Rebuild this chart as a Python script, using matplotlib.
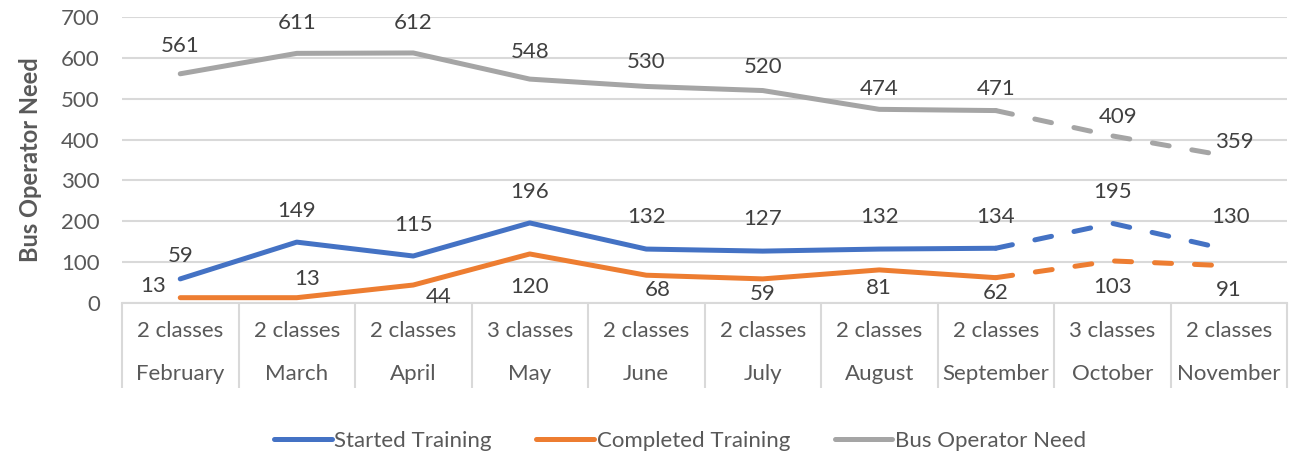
import numpy as np
import matplotlib.pyplot as plt

# data
months = ["February", "March", "April", "May", "June", "July",
          "August", "September", "October", "November"]
classes = ["2 classes", "2 classes", "2 classes", "3 classes", "2 classes",
           "2 classes", "2 classes", "2 classes", "3 classes", "2 classes"]
started = [59, 149, 115, 196, 132, 127, 132, 134, 195, 130]
completed = [13, 13, 44, 120, 68, 59, 81, 62, 103, 91]
need = [561, 611, 612, 548, 530, 520, 474, 471, 409, 359]
n_actual = 8  # first 8 months are actuals, rest projected (dashed)

# label offsets in pixels (dx, dy), up is positive
off_started = [(0, 23), (0, 31), (0, 31), (0, 31), (0, 32), (0, 32), (0, 32), (0, 31), (0, 31), (2, 33)]
off_completed = [(-27, 12), (10, 19), (25, -12), (0, -33), (11, -15), (0, -15), (0, -18), (0, -15), (0, -26), (0, -24)]
off_need = [(0, 28), (0, 30), (0, 30), (0, 27), (0, 24), (0, 24), (0, 20), (0, 22), (6, 19), (6, 14)]

blue = "#4472C4"
orange = "#ED7D31"
gray = "#A5A5A5"
grid_c = "#D9D9D9"
txt = "#595959"
lbl = "#404040"

plt.rcParams['font.family'] = ['Lato', 'DejaVu Sans']

fig = plt.figure(figsize=(12.94, 4.59), dpi=100)
ax = fig.add_axes([122/1294, 1 - 303/459, 1165/1294, 286/459])

x = np.arange(len(months))

def draw(vals, color, offs, z):
    ax.plot(x[:n_actual], vals[:n_actual], color=color, lw=3.6,
            solid_capstyle='round', solid_joinstyle='round', zorder=z)
    l, = ax.plot(x[n_actual-1:], vals[n_actual-1:], color=color, lw=3.6,
                 dash_capstyle='round', zorder=z)
    l.set_dashes((3.4, 4.6))
    for xi, v, (dx, dy) in zip(x, vals, offs):
        ax.annotate(str(v), (xi, v), xytext=(dx, dy), textcoords='offset pixels',
                    ha='center', va='center', fontsize=16, color=lbl)

draw(need, gray, off_need, 3)
draw(started, blue, off_started, 4)
draw(completed, orange, off_completed, 5)

ax.set_xlim(-0.5, len(months) - 0.5)
ax.set_ylim(0, 700)
ax.set_yticks(np.arange(0, 701, 100))
ax.yaxis.grid(True, color=grid_c, lw=1.5)
ax.set_axisbelow(True)
for s in ['top', 'right', 'left']:
    ax.spines[s].set_visible(False)
ax.spines['bottom'].set_color(grid_c)
ax.spines['bottom'].set_linewidth(1.5)
ax.tick_params(axis='y', length=0, pad=16, labelsize=16, labelcolor=txt)

# category boxes
ax.set_xticks(x)
ax.set_xticklabels([])
ax.tick_params(axis='x', which='major', length=0)
ax.set_xticks(np.arange(-0.5, len(months)), minor=True)
ax.tick_params(axis='x', which='minor', length=61, width=1.5, color=grid_c, direction='out')

trans = ax.get_xaxis_transform()
for xi, c, m in zip(x, classes, months):
    ax.text(xi, -28/286, c, transform=trans, ha='center', va='center', fontsize=16, color=txt)
    ax.text(xi, -71/286, m, transform=trans, ha='center', va='center', fontsize=16, color=txt)

ax.set_ylabel("Bus Operator Need", fontsize=17, fontweight='bold', color=txt)
ax.yaxis.set_label_coords(-80/1165, 0.5)

handles = [plt.Line2D([], [], color=c, lw=3.6, solid_capstyle='round') for c in (blue, orange, gray)]
fig.legend(handles, ["Started Training", "Completed Training", "Bus Operator Need"],
           loc='center', bbox_to_anchor=(680/1294, 1 - 441/459), ncol=3, frameon=False,
           fontsize=16, labelcolor=txt, handlelength=2.6, handletextpad=0.12, columnspacing=2.0)

fig.savefig("out.png", dpi=100)
